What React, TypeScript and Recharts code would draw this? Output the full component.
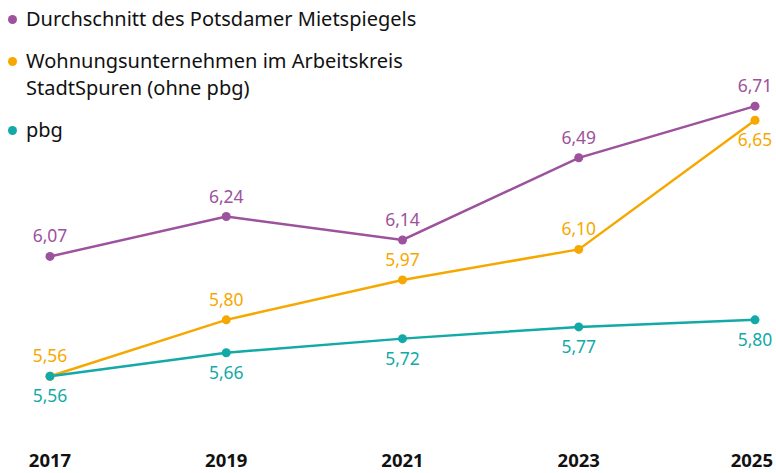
import React from "react"
import { LineChart, Line, XAxis, YAxis, LabelList } from "recharts"

const years = [2017, 2019, 2021, 2023, 2025]
const mietspiegel = [6.07, 6.24, 6.14, 6.49, 6.71]
const stadtspuren = [5.56, 5.8, 5.97, 6.1, 6.65]
const pbg = [5.56, 5.66, 5.72, 5.77, 5.8]

const PURPLE = "#9c529d"
const ORANGE = "#f6a800"
const TEAL = "#12a9a7"
const FONT = "'Noto Sans', sans-serif"

const data = years.map((year, i) => ({
  year,
  mietspiegel: mietspiegel[i],
  stadtspuren: stadtspuren[i],
  pbg: pbg[i],
}))

const legendItems = [
  { color: PURPLE, lines: ["Durchschnitt des Potsdamer Mietspiegels"] },
  { color: ORANGE, lines: ["Wohnungsunternehmen im Arbeitskreis", "StadtSpuren (ohne pbg)"] },
  { color: TEAL, lines: ["pbg"] },
]

const fmt = (v: number) => v.toFixed(2).replace(".", ",")

// above: true puts the label over the dot, false under it
function makeLabel(color: string, above: (i: number) => boolean) {
  return (props: any) => {
    const { x, y, value, index } = props
    const up = above(index)
    return (
      <text
        x={x}
        y={up ? y - 14 : y + 26}
        textAnchor="middle"
        fill={color}
        fontSize={17.5}
        fontFamily={FONT}
      >
        {fmt(value)}
      </text>
    )
  }
}

const YearTick = (props: any) => {
  const { x, y, payload, index } = props
  const last = index === years.length - 1
  return (
    <text
      x={last ? x + 18 : x}
      y={y + 10}
      textAnchor={last ? "end" : "middle"}
      fill="#111"
      fontSize={18.5}
      fontWeight={700}
      fontFamily={FONT}
    >
      {payload.value}
    </text>
  )
}

export default function App() {
  return (
    <div style={{ position: "absolute", left: 0, top: 0, width: 776, height: 473, background: "#fff", fontFamily: FONT }}>
      <div style={{ position: "absolute", left: 8, top: 5, zIndex: 2 }}>
        {legendItems.map((item, i) => (
          <div key={i} style={{ display: "flex", alignItems: "flex-start", marginBottom: 15 }}>
            <span
              style={{
                width: 9,
                height: 9,
                borderRadius: "50%",
                background: item.color,
                marginTop: 10,
                marginRight: 9,
                flexShrink: 0,
              }}
            />
            <div style={{ fontSize: 20, lineHeight: "27px", color: "#111" }}>
              {item.lines.map((l, j) => (
                <div key={j}>{l}</div>
              ))}
            </div>
          </div>
        ))}
      </div>
      <LineChart width={776} height={473} data={data} margin={{ top: 85, right: 21, bottom: 0, left: 50 }}>
        <XAxis
          dataKey="year"
          type="number"
          domain={[2017, 2025]}
          ticks={years}
          axisLine={false}
          tickLine={false}
          height={24}
          tick={<YearTick />}
          interval={0}
        />
        <YAxis hide domain={[5.25, 6.8]} />
        <Line
          dataKey="mietspiegel"
          stroke={PURPLE}
          strokeWidth={2.5}
          dot={{ r: 4.5, fill: PURPLE, stroke: PURPLE, strokeWidth: 0 }}
          isAnimationActive={false}
        >
          <LabelList dataKey="mietspiegel" content={makeLabel(PURPLE, () => true)} />
        </Line>
        <Line
          dataKey="stadtspuren"
          stroke={ORANGE}
          strokeWidth={2.5}
          dot={{ r: 4.5, fill: ORANGE, stroke: ORANGE, strokeWidth: 0 }}
          isAnimationActive={false}
        >
          <LabelList dataKey="stadtspuren" content={makeLabel(ORANGE, (i) => i !== 4)} />
        </Line>
        <Line
          dataKey="pbg"
          stroke={TEAL}
          strokeWidth={2.5}
          dot={{ r: 4.5, fill: TEAL, stroke: TEAL, strokeWidth: 0 }}
          isAnimationActive={false}
        >
          <LabelList dataKey="pbg" content={makeLabel(TEAL, () => false)} />
        </Line>
      </LineChart>
    </div>
  )
}
